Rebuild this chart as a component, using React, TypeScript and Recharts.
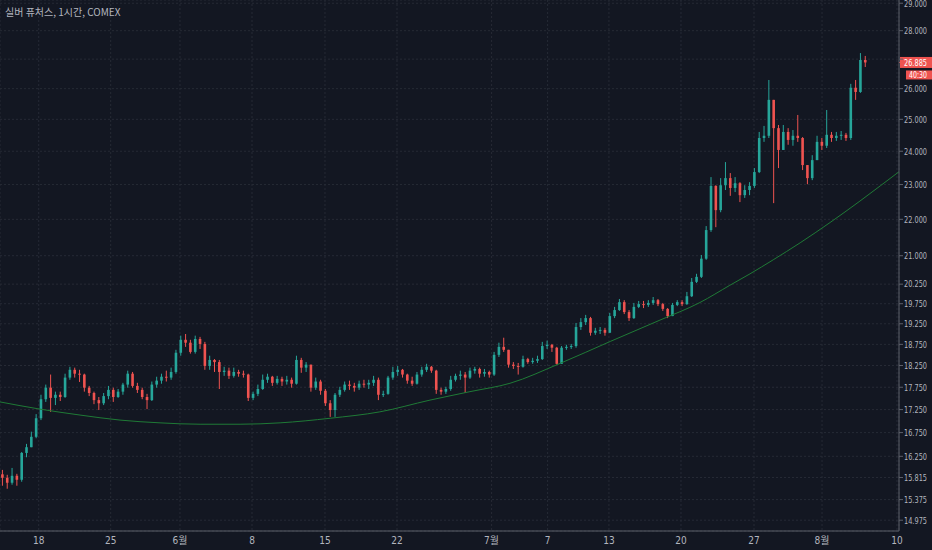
import React from 'react';
import {
  ComposedChart,
  Bar,
  Line,
  XAxis,
  YAxis,
  CartesianGrid,
  ReferenceLine,
} from 'recharts';

const UP = '#26a69a';
const DOWN = '#ef5350';
const TEXT = '#b2b5be';
const AXIS = '#5d606b';
const FONT = "'DejaVu Sans Condensed', 'Liberation Sans Narrow', 'Noto Sans CJK KR', sans-serif";
const TITLE_FONT = "'Noto Sans CJK KR', sans-serif";

const title = '실버 퓨처스, 1시간, COMEX';
const countdown = '40:30';

// candles, roughly three per trading day
const firstOpen = 15.88;
const closes = [
  15.81, 15.71, 15.85, 15.77, 16.32, 16.44, 16.66, 17.06, 17.48, 17.74,
  17.51, 17.58, 17.53, 17.97, 18.15, 18.06, 18.04, 17.74, 17.62, 17.46,
  17.39, 17.55, 17.69, 17.53, 17.65, 17.81, 18.06, 17.78, 17.69, 17.53,
  17.46, 17.81, 17.9, 17.99, 17.97, 18.1, 18.55, 18.86, 18.79, 18.57,
  18.88, 18.76, 18.24, 18.38, 18.33, 18.1, 18.13, 18.01, 18.1, 18.06,
  18.04, 17.51, 17.6, 17.71, 17.92, 17.99, 17.85, 17.94, 17.88, 17.92,
  17.83, 18.38, 18.2, 18.27, 17.74, 17.88, 17.67, 17.39, 17.24, 17.58,
  17.69, 17.81, 17.78, 17.74, 17.83, 17.81, 17.85, 17.92, 17.58, 17.6,
  17.97, 18.1, 18.15, 18.04, 17.9, 17.83, 18.04, 18.15, 18.22, 18.13,
  17.69, 17.65, 17.71, 17.92, 18.01, 18.04, 17.97, 18.13, 18.17, 18.06,
  18.1, 18.04, 18.5, 18.69, 18.62, 18.27, 18.24, 18.22, 18.4, 18.33,
  18.36, 18.4, 18.71, 18.74, 18.67, 18.29, 18.67, 18.69, 18.71, 19.17,
  19.29, 19.39, 19.03, 19.08, 19.1, 19.03, 19.44, 19.59, 19.79, 19.54,
  19.39, 19.67, 19.74, 19.72, 19.77, 19.84, 19.74, 19.62, 19.44, 19.72,
  19.79, 19.74, 19.94, 20.31, 20.44, 20.92, 21.7, 22.96, 22.26, 22.98,
  23.19, 22.9, 23.04, 22.69, 22.84, 22.96, 23.37, 24.41, 24.48, 25.63,
  24.72, 24.04, 24.6, 24.35, 24.48, 24.41, 23.58, 23.19, 23.73, 24.29,
  24.17, 24.51, 24.41, 24.48, 24.51, 24.41, 26.03, 25.89, 26.97, 26.885,
];
const highs = [
  15.97, 15.87, 16.01, 15.89, 16.34, 16.51, 16.77, 17.15, 17.58, 17.81,
  18.04, 17.65, 17.65, 18.06, 18.22, 18.2, 18.15, 18.06, 17.78, 17.65,
  17.53, 17.62, 17.78, 17.74, 17.71, 17.85, 18.13, 18.1, 17.85, 17.74,
  17.6, 17.88, 17.99, 18.06, 18.13, 18.2, 18.62, 18.96, 19.0, 18.86,
  18.96, 18.93, 18.81, 18.48, 18.4, 18.38, 18.22, 18.2, 18.2, 18.15,
  18.13, 18.06, 17.65, 17.81, 18.04, 18.06, 18.01, 18.01, 17.99, 18.01,
  17.97, 18.48, 18.43, 18.33, 18.27, 17.97, 17.92, 17.71, 17.46, 17.62,
  17.76, 17.88, 17.9, 17.85, 17.9, 17.92, 17.92, 18.01, 17.97, 17.67,
  18.01, 18.22, 18.24, 18.17, 18.06, 17.99, 18.1, 18.22, 18.29, 18.24,
  18.15, 17.74, 17.76, 18.01, 18.06, 18.13, 18.1, 18.2, 18.22, 18.2,
  18.17, 18.13, 18.57, 18.79, 18.91, 18.62, 18.33, 18.31, 18.48, 18.43,
  18.43, 18.48, 18.81, 18.84, 18.76, 18.69, 18.71, 18.74, 18.76, 19.27,
  19.39, 19.47, 19.42, 19.15, 19.17, 19.15, 19.52, 19.67, 19.87, 19.84,
  19.59, 19.77, 19.82, 19.82, 19.84, 19.92, 19.87, 19.77, 19.64, 19.77,
  19.84, 19.84, 20.05, 20.41, 20.52, 21.02, 21.81, 23.22, 22.98, 23.19,
  23.67, 23.34, 23.22, 23.07, 22.98, 23.07, 23.49, 24.6, 24.79, 26.29,
  25.63, 24.82, 24.82, 24.72, 24.66, 25.14, 24.44, 23.58, 23.88, 24.48,
  24.41, 25.3, 24.6, 24.6, 24.63, 24.57, 26.16, 26.29, 27.21, 27.11,
];
const lows = [
  15.65, 15.59, 15.67, 15.65, 15.73, 16.23, 16.44, 16.63, 17.02, 17.42,
  17.2, 17.35, 17.44, 17.51, 17.92, 17.97, 17.87, 17.65, 17.55, 17.37,
  17.24, 17.35, 17.48, 17.42, 17.51, 17.58, 17.74, 17.74, 17.62, 17.48,
  17.26, 17.44, 17.74, 17.83, 17.88, 17.92, 18.06, 18.48, 18.69, 18.53,
  18.53, 18.64, 18.15, 18.15, 18.1, 17.71, 18.01, 17.94, 17.97, 17.99,
  17.97, 17.44, 17.46, 17.55, 17.69, 17.85, 17.78, 17.81, 17.78, 17.81,
  17.74, 17.81, 18.08, 18.1, 17.65, 17.69, 17.58, 17.33, 17.09, 17.09,
  17.53, 17.65, 17.69, 17.65, 17.69, 17.74, 17.71, 17.78, 17.46, 17.53,
  17.58, 17.92, 18.01, 17.97, 17.83, 17.78, 17.81, 17.99, 18.1, 18.08,
  17.6, 17.58, 17.6, 17.67, 17.88, 17.92, 17.62, 17.94, 18.06, 17.97,
  17.99, 17.97, 18.01, 18.45, 18.57, 18.2, 18.17, 18.04, 18.2, 18.29,
  18.29, 18.31, 18.38, 18.64, 18.57, 18.27, 18.29, 18.62, 18.64, 18.67,
  19.1, 19.22, 18.96, 18.98, 19.0, 18.96, 19.03, 19.39, 19.57, 19.49,
  19.32, 19.37, 19.64, 19.64, 19.67, 19.72, 19.69, 19.57, 19.39, 19.44,
  19.69, 19.69, 19.72, 19.92, 20.28, 20.41, 20.89, 21.65, 21.78, 22.2,
  22.84, 22.67, 22.78, 22.49, 22.61, 22.69, 22.9, 23.34, 24.29, 24.41,
  22.46, 23.49, 24.04, 24.2, 24.17, 24.29, 23.43, 23.01, 23.13, 23.73,
  24.04, 24.1, 24.29, 24.32, 24.35, 24.32, 24.35, 25.63, 25.86, 26.73,
];

// green moving-average curve, sampled along the candle index
const maIdx = [-0.5, 7.8, 16.1, 24.4, 32.7, 41, 49.3, 57.6, 68, 78.3, 88.7, 97, 105.3, 115.7, 126.1, 136.4, 144.7, 150.9, 155.1, 159.9, 165.5, 171.7, 177.9, 182.1, 186];
const maVal = [17.42, 17.26, 17.13, 17.02, 16.96, 16.93, 16.93, 16.96, 17.06, 17.2, 17.46, 17.65, 17.84, 18.3, 18.82, 19.34, 19.78, 20.22, 20.52, 20.89, 21.35, 21.91, 22.52, 22.96, 23.38];

// day labels on the time axis, placed in candle-index units
const dayTicks = [7.53, 22.46, 36.84, 51.78, 66.92, 81.86, 101.48, 113.1, 125.82, 140.77, 155.92, 170.03, 185.58];
const dayLabels = ['18', '25', '6월', '8', '15', '22', '7월', '7', '13', '20', '27', '8월', '10'];

const priceTicks = [14.975, 15.375, 15.815, 16.25, 16.75, 17.25, 17.75, 18.25, 18.75, 19.25, 19.75, 20.25, 21, 22, 23, 24, 25, 26, 27, 28, 29];
const hiddenPriceLabel = 27; // covered by the last-price tag

const rows = closes.map((c, i) => {
  const o = i === 0 ? firstOpen : closes[i - 1];
  const h = Math.max(highs[i], o, c);
  const l = Math.min(lows[i], o, c);
  return { i, o, h, l, c, range: [l, h] };
});
const maRows = maIdx.map((i, k) => ({ i, ma: maVal[k] }));
const lastPrice = closes[closes.length - 1];

const Candle = (props: any) => {
  const { x, y, width, height, payload } = props;
  if (x == null || y == null) return <g />;
  const { o, c, h, l } = payload;
  const color = c >= o ? UP : DOWN;
  const top = Math.min(y, y + height);
  const span = Math.abs(height);
  const lh = Math.log(h) - Math.log(l);
  const toY = (p: number) => (lh > 0 ? top + (span * (Math.log(h) - Math.log(p))) / lh : top);
  const cx = x + width / 2;
  const bTop = toY(Math.max(o, c));
  const bBot = toY(Math.min(o, c));
  return (
    <g>
      <line x1={cx} x2={cx} y1={top} y2={top + Math.max(span, 1)} stroke={color} strokeWidth={1} />
      <rect x={cx - 1.3} y={bTop} width={2.6} height={Math.max(1, bBot - bTop)} fill={color} />
    </g>
  );
};

const PriceTick = (props: any) => {
  const { x, y, payload } = props;
  if (payload.value === hiddenPriceLabel) return <g />;
  return (
    <text
      x={x - 1}
      y={y}
      dy={3.3}
      fill={TEXT}
      fontSize={9}
      fontFamily={FONT}
      textAnchor="start"
      textLength={23}
      lengthAdjust="spacingAndGlyphs"
    >
      {payload.value.toFixed(3)}
    </text>
  );
};

const PriceTag = (props: any) => {
  const vb = props.viewBox;
  if (!vb) return <g />;
  const x = vb.x + vb.width;
  const y = vb.y;
  return (
    <g>
      <line x1={x} x2={x + 3} y1={y} y2={y} stroke={DOWN} />
      <rect x={x + 1} y={y - 5.5} width={33} height={11} fill={DOWN} />
      <text x={x + 5} y={y + 3.3} fill="#ffffff" fontSize={9} fontFamily={FONT} textLength={23} lengthAdjust="spacingAndGlyphs">
        {lastPrice.toFixed(3)}
      </text>
      <rect x={x + 7} y={y + 8} width={26} height={9} fill={DOWN} />
      <text x={x + 10} y={y + 15.5} fill="#ffffff" fontSize={8.5} fontFamily={FONT} textLength={18} lengthAdjust="spacingAndGlyphs">
        {countdown}
      </text>
    </g>
  );
};

export default function App() {
  return (
    <div style={{ position: 'relative', width: 932, height: 550, background: '#131722' }}>
      <style>{'body{margin:0;background:#131722}'}</style>
      <ComposedChart
        width={932}
        height={550}
        data={rows}
        margin={{ top: 0, right: 0, bottom: 0, left: 0 }}
      >
        <CartesianGrid stroke="#262a35" strokeDasharray="2 2" />
        <XAxis
          dataKey="i"
          type="number"
          domain={[-0.5, 186]}
          ticks={dayTicks}
          interval={0}
          allowDataOverflow
          height={19}
          tickLine={false}
          tickSize={4}
          tickMargin={2}
          axisLine={{ stroke: AXIS }}
          tick={{ fill: TEXT, fontSize: 10, fontFamily: FONT }}
          tickFormatter={(v: number) => dayLabels[dayTicks.indexOf(v)] ?? ''}
        />
        <YAxis
          orientation="right"
          scale="log"
          domain={[14.77, 29.12]}
          allowDataOverflow
          ticks={priceTicks}
          interval={0}
          width={33}
          tickSize={4}
          tickMargin={2}
          axisLine={{ stroke: AXIS }}
          tickLine={{ stroke: AXIS }}
          tick={<PriceTick />}
        />
        <Line
          data={maRows}
          dataKey="ma"
          type="monotone"
          stroke="#1f7a36"
          strokeWidth={1}
          dot={false}
          activeDot={false}
          legendType="none"
          isAnimationActive={false}
        />
        <Bar dataKey="range" shape={<Candle />} isAnimationActive={false} />
        <ReferenceLine y={lastPrice} stroke="none" label={<PriceTag />} />
      </ComposedChart>
      <div
        style={{
          position: 'absolute',
          left: 5,
          top: 6,
          color: TEXT,
          fontSize: 10,
          fontFamily: TITLE_FONT,
          lineHeight: '12px',
          whiteSpace: 'nowrap',
        }}
      >
        {title}
      </div>
    </div>
  );
}
